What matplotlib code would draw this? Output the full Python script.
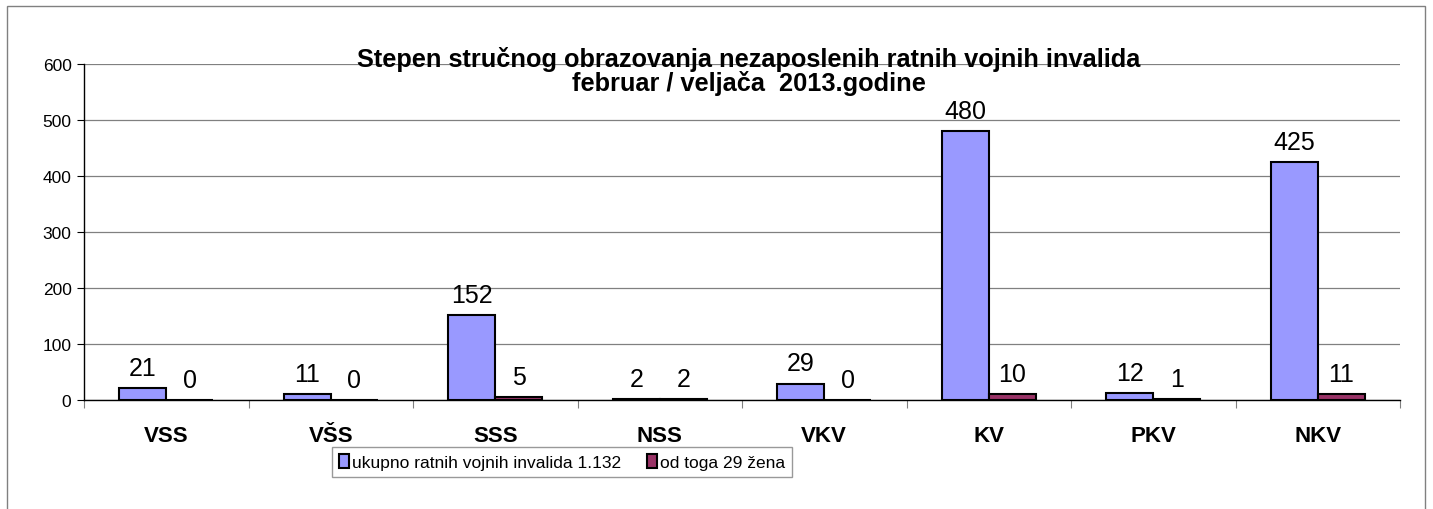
import numpy as np
import matplotlib.pyplot as plt
from matplotlib.patches import Rectangle

# --- Data ---
categories = ['VSS', 'VŠS', 'SSS', 'NSS', 'VKV', 'KV', 'PKV', 'NKV']
ukupno = [21, 11, 152, 2, 29, 480, 12, 425]
zene = [0, 0, 5, 2, 0, 10, 1, 11]
series_names = ['ukupno ratnih vojnih invalida 1.132', 'od toga 29 žena']

BLUE = '#9999FF'
MAROON = '#993366'

plt.rcParams['font.family'] = ['Liberation Sans', 'DejaVu Sans']

fig = plt.figure(figsize=(14.33, 5.10), dpi=100)
W, H = 1433, 510

# outer chart frame
fig.patches.append(Rectangle((7 / W, -0.02), (1425 - 7) / W, 1 - 7 / H + 0.02,
                             transform=fig.transFigure, fill=False,
                             edgecolor='#808080', linewidth=1.0))

ax = fig.add_axes([84 / W, 1 - 401 / H, (1400 - 84) / W, (401 - 65) / H])

x = np.arange(len(categories))
bw = 0.286
b1 = ax.bar(x - bw / 2, ukupno, bw, color=BLUE, edgecolor='black', linewidth=1.5,
            label=series_names[0], zorder=3)
b2 = ax.bar(x + bw / 2, zene, bw, color=MAROON, edgecolor='black', linewidth=1.5,
            label=series_names[1], zorder=3)

for bars in (b1, b2):
    for rect in bars:
        h = rect.get_height()
        ax.annotate(f'{int(h)}', (rect.get_x() + rect.get_width() / 2, h),
                    xytext=(0, 6), textcoords='offset points', ha='center', va='bottom',
                    fontsize=18)

ax.set_xlim(-0.5, len(categories) - 0.5)
ax.set_ylim(0, 600)
ax.set_yticks(range(0, 601, 100))
ax.tick_params(axis='y', labelsize=12.5, length=5, width=0.8, direction='out', pad=4)
ax.yaxis.grid(True, color='#808080', linewidth=0.9, zorder=0)
ax.set_axisbelow(True)

# category labels centred, tick marks at boundaries
ax.set_xticks(x)
ax.set_xticklabels(categories, fontsize=16, fontweight='bold')
ax.tick_params(axis='x', length=0, pad=18)
ax.set_xticks(np.arange(-0.5, len(categories) + 0.5, 1), minor=True)
ax.tick_params(axis='x', which='minor', length=6, width=0.8, color='#808080', direction='out')

for side in ('top', 'right'):
    ax.spines[side].set_visible(False)
ax.spines['left'].set_linewidth(1.0)
ax.spines['bottom'].set_linewidth(1.0)

fig.text(749 / W, 1 - 59 / H, 'Stepen stručnog obrazovanja nezaposlenih ratnih vojnih invalida',
         ha='center', va='center', fontsize=18.3, fontweight='bold')
fig.text(749 / W, 1 - 84 / H, 'februar / veljača  2013.godine',
         ha='center', va='center', fontsize=18.3, fontweight='bold')

leg = fig.legend(loc='center', bbox_to_anchor=(562 / W, 1 - 463 / H), ncol=2,
                 frameon=True, fancybox=False, edgecolor='#808080',
                 handlelength=0.6, handleheight=0.9, handletextpad=0.15,
                 columnspacing=1.5, borderpad=0.4, borderaxespad=0,
                 prop={'size': 12.5})
leg.get_frame().set_linewidth(1.0)

fig.savefig('out.png', dpi=100)
